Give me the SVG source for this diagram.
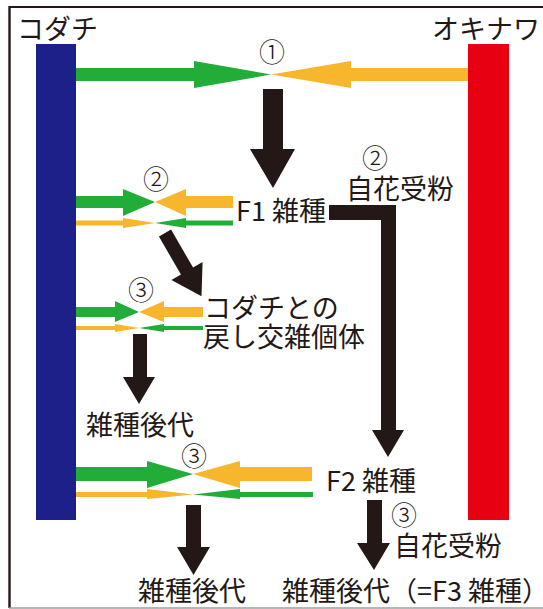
<svg xmlns="http://www.w3.org/2000/svg" width="543" height="609" viewBox="0 0 543 609">
<style>
.t{font-family:"Noto Sans CJK JP","Noto Sans",sans-serif;font-size:27px;fill:#231815;font-weight:400}
.c{font-family:"Noto Sans CJK JP","Noto Sans",sans-serif;font-size:26px;fill:#231815;text-anchor:middle;font-weight:300}
.g{fill:#22AC38}
.o{fill:#F8B62D}
.k{fill:#231815}
</style>
<rect width="543" height="609" fill="#ffffff"/>
<g id="frame">
<line x1="9.5" y1="7" x2="543" y2="7" stroke="#231815" stroke-width="2"/>
<line x1="9.5" y1="6" x2="9.5" y2="608" stroke="#231815" stroke-width="2.4"/>
<line x1="9" y1="608" x2="543" y2="608" stroke="#9E9E9F" stroke-width="1.5"/>
</g>
<g id="kodachi">
<rect x="36" y="44" width="40" height="476" fill="#1D2088"/>
<text class="t" x="17" y="39">コダチ</text>
</g>
<g id="okinawa">
<rect x="468" y="44" width="41" height="476" fill="#E60012"/>
<text class="t" x="432" y="39">オキナワ</text>
</g>
<g id="cross1">
<text class="c" x="272" y="62">①</text>
</g>
<g id="f1">
<text class="t" x="236" y="221">F1 雑種</text>
</g>
<g id="cross2">
<text class="c" x="156" y="189">②</text>
</g>
<g id="selfing2">
<text class="c" x="375" y="168">②</text>
<text class="t" x="346" y="199">自花受粉</text>
</g>
<g id="backcross">
<text class="t" x="204" y="318">コダチとの</text>
<text class="t" x="203" y="347">戻し交雑個体</text>
</g>
<g id="cross3a">
<text class="c" x="141" y="300">③</text>
</g>
<g id="progeny1">
<text class="t" x="86" y="435">雑種後代</text>
</g>
<g id="cross3b">
<text class="c" x="194" y="466">③</text>
</g>
<g id="f2">
<text class="t" x="326" y="491">F2 雑種</text>
</g>
<g id="selfing3">
<text class="c" x="404" y="525">③</text>
<text class="t" x="394" y="556">自花受粉</text>
</g>
<g id="progeny2">
<text class="t" x="138" y="601">雑種後代</text>
</g>
<g id="f3">
<text class="t" x="282" y="601">雑種後代（=F3 雑種）</text>
</g>
<g id="connectors">
<polygon class="g" points="76,68 194,68 194,61 271,74.5 194,88 194,81 76,81"/>
<polygon class="o" points="468,68 351,68 351,61 271,74.5 351,88 351,81 468,81"/>
<polygon class="k" points="263,89 283,89 283,149 295,149 273,188 250,149 263,149"/>
<polygon class="g" points="76,196 123,196 123,189 155,202 123,216 123,208 76,208"/>
<polygon class="o" points="233,196 186,196 186,189 155,202 186,216 186,208 233,208"/>
<polygon class="o" points="76,220.5 123,220.5 123,218 155,223 123,228 123,225.5 76,225.5"/>
<polygon class="g" points="233,220.5 186,220.5 186,218 155,223 186,228 186,225.5 233,225.5"/>
<polygon class="k" transform="translate(165,233) rotate(-30)" points="-7,0 7,0 7,44 18,44 0,73 -18,44 -7,44"/>
<polygon class="k" points="329,205 396,205 396,430 404,430 388,457 372,430 381,430 381,220 329,220"/>
<polygon class="g" points="76,307 115,307 115,301 139,312 115,322 115,317 76,317"/>
<polygon class="o" points="203,307 164,307 164,301 139,312 164,322 164,317 203,317"/>
<polygon class="o" points="76,326 115,326 115,324 139,328 115,332 115,330 76,330"/>
<polygon class="g" points="203,326 164,326 164,324 139,328 164,332 164,330 203,330"/>
<polygon class="k" points="133,334 147,334 147,377 155,377 139,404 123,377 133,377"/>
<polygon class="g" points="76,467 147,467 147,461 193,474 147,488 147,481 76,481"/>
<polygon class="o" points="312,467 240,467 240,461 193,474 240,488 240,481 312,481"/>
<polygon class="o" points="76,492 147,492 147,489 193,494.5 147,499 147,497 76,497"/>
<polygon class="g" points="313,492 240,492 240,489 193,494.5 240,499 240,497 313,497"/>
<polygon class="k" points="186,505 201,505 201,547 210,547 193.5,575 177,547 186,547"/>
<polygon class="k" points="367,500 382,500 382,543 390,543 374,570 357,543 367,543"/>
</g>
</svg>
